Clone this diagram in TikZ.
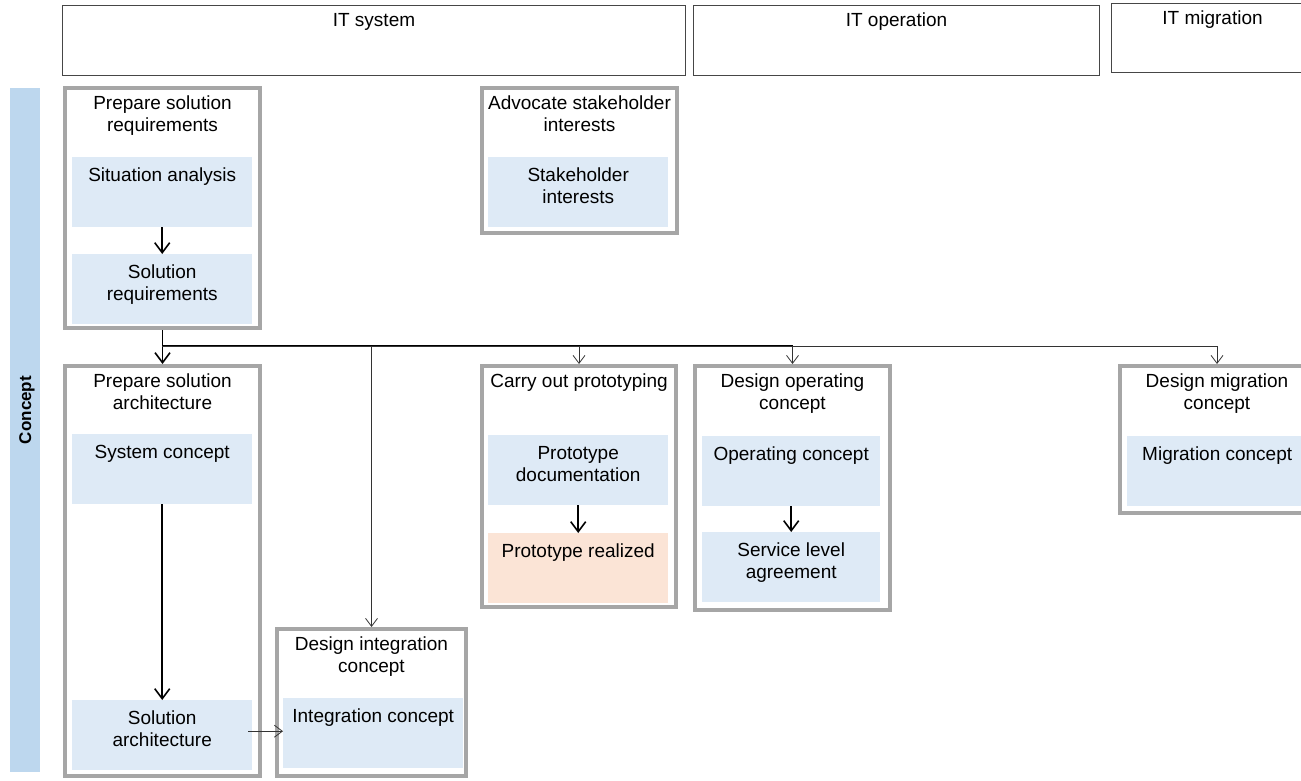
\documentclass[tikz,border=0pt]{standalone}
\usepackage{fontspec}
\setmainfont{Liberation Sans}
\usepackage{xcolor}
\usetikzlibrary{calc, shapes, arrows.meta, positioning}
\definecolor{boxgray}{RGB}{166,166,166}
\definecolor{headgray}{RGB}{70,70,70}
\definecolor{itemblue}{RGB}{222,234,246}
\definecolor{itempeach}{RGB}{251,228,214}
\definecolor{barblue}{RGB}{189,215,238}

\begin{document}
\begin{tikzpicture}[x=1pt, y=-1pt,
	txt/.style={font=\fontsize{19}{22}\selectfont, align=center, inner sep=3pt},
	header/.style={draw=headgray, line width=1pt, anchor=north west},
	outerbox/.style={draw=boxgray, line width=4pt, anchor=north west, minimum width=195pt},
	itembox/.style={fill=itemblue, anchor=north west, minimum width=180pt, minimum height=70pt},
	bigarrow/.style={-{Straight Barb[length=10pt,width=15pt]}, line width=1.6pt},
	thinarrow/.style={-{Straight Barb[length=8pt,width=12pt]}, line width=0.8pt, draw=black!80}
	]
				\useasboundingbox (0,0) rectangle (1301,781);
				%Header boxes
				\node [header, minimum width=623pt, minimum height=70pt,
					label={[txt,anchor=north,yshift=-5pt]north:IT system}] (hsys) at (62,5) {};
				\node [header, minimum width=406pt, minimum height=70pt,
					label={[txt,anchor=north,yshift=-5pt]north:IT operation}] (hoper) at (693,5) {};
				\node [header, minimum width=202pt, minimum height=69pt,
					label={[txt,anchor=north,yshift=-5pt]north:IT migration}] (hmigr) at (1111,3) {};
				%Phase bar
				\node [fill=barblue, anchor=north west, minimum width=30pt, minimum height=684pt, inner sep=0pt] (phase) at (10,88) {};
				\node [txt, rotate=90, font=\fontsize{17}{20}\selectfont\bfseries] (phasetext) at (27,410) {Concept};
				%Outer boxes
				\node [outerbox, minimum height=240pt,
					label={[txt,anchor=north,yshift=-7pt]north:{Prepare solution\\requirements}}] (req) at (63,86) {};
				\node [outerbox, minimum height=145pt,
					label={[txt,anchor=north,yshift=-7pt]north:{Advocate stakeholder\\interests}}] (adv) at (480,86) {};
				\node [outerbox, minimum height=410pt,
					label={[txt,anchor=north,yshift=-7pt]north:{Prepare solution\\architecture}}] (arch) at (63,364) {};
				\node [outerbox, minimum width=189pt, minimum height=147pt,
					label={[txt,anchor=north,yshift=-7pt]north:{Design integration\\concept}}] (integ) at (275,627) {};
				\node [outerbox, minimum width=194pt, minimum height=241pt,
					label={[txt,anchor=north,yshift=-7pt]north:{Carry out prototyping}}] (proto) at (480,364) {};
				\node [outerbox, minimum height=244pt,
					label={[txt,anchor=north,yshift=-7pt]north:{Design operating\\concept}}] (oper) at (693,364) {};
				\node [outerbox, minimum width=194pt, minimum height=147pt,
					label={[txt,anchor=north,yshift=-7pt]north:{Design migration\\concept}}] (migr) at (1118,364) {};
				%Work products
				\node [itembox, label={[txt,anchor=north,yshift=-8pt]north:Situation analysis}] (sit) at (72,157) {};
				\node [itembox, label={[txt,anchor=north,yshift=-8pt]north:{Solution\\requirements}}] (solreq) at (72,254) {};
				\node [itembox, label={[txt,anchor=north,yshift=-8pt]north:{Stakeholder\\interests}}] (stake) at (488,157) {};
				\node [itembox, label={[txt,anchor=north,yshift=-8pt]north:System concept}] (sys) at (72,434) {};
				\node [itembox, label={[txt,anchor=north,yshift=-8pt]north:{Solution\\architecture}}] (solarch) at (72,700) {};
				\node [itembox, label={[txt,anchor=north,yshift=-8pt]north:Integration concept}] (intc) at (283,698) {};
				\node [itembox, label={[txt,anchor=north,yshift=-8pt]north:{Prototype\\documentation}}] (pdoc) at (488,435) {};
				\node [itembox, fill=itempeach, label={[txt,anchor=north,yshift=-8pt]north:Prototype realized}] (preal) at (488,533) {};
				\node [itembox, minimum width=178pt, label={[txt,anchor=north,yshift=-8pt]north:Operating concept}] (opc) at (702,436) {};
				\node [itembox, minimum width=178pt, label={[txt,anchor=north,yshift=-8pt]north:{Service level\\agreement}}] (sla) at (702,532) {};
				\node [itembox, label={[txt,anchor=north,yshift=-8pt]north:Migration concept}] (migc) at (1127,436) {};
				%Arrows inside the boxes
				\draw [bigarrow] (sit) -- (solreq);
				\draw [bigarrow] (sys) -- (solarch);
				\draw [bigarrow] (pdoc) -- (preal);
				\draw [bigarrow] (opc) -- (sla);
				%Distribution line
				\coordinate (j) at (162,346);
				\draw [bigarrow] (req) -- (arch);
				\draw [line width=1.4pt] (j) -- (j -| oper.north);
				\draw [thinarrow] (j) -| (integ.north);
				\draw [thinarrow] (j) -| (proto.north);
				\draw [thinarrow] (j) -| (oper.north);
				\draw [thinarrow] (j) -| (migr.north);
				\draw [thinarrow] ($(solarch.east)+(-4,-4)$) -- ($(intc.west |- solarch.east)+(0,-4)$);
\end{tikzpicture}
\end{document}
